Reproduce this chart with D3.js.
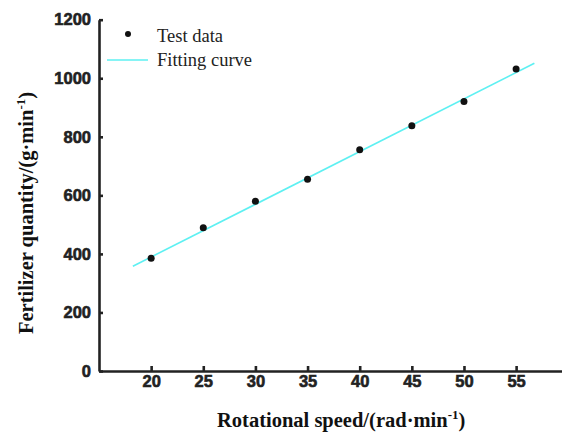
<!DOCTYPE html>
<html>
<head>
<meta charset="utf-8">
<script src="https://cdn.jsdelivr.net/npm/d3@7"></script>
<style>
  body { margin: 0; background: #fff; }
  .tick text { font-family: "Liberation Sans", Arial, sans-serif; font-weight: bold; font-size: 16.5px; fill: #222; stroke: #222; stroke-width: 0.6px; }
  .axis path, .axis line { stroke: #222; stroke-width: 2.6px; }
  .title { font-family: "Liberation Serif", "Times New Roman", serif; font-weight: bold; font-size: 20.5px; fill: #111; }
  .legend text { font-family: "Liberation Serif", "Times New Roman", serif; font-size: 18.5px; fill: #222; }
</style>
</head>
<body>
<div id="app"></div>
<script>
// data
const speed = [20, 25, 30, 35, 40, 45, 50, 55];
const quantity = [385, 489, 580, 655, 756, 838, 921, 1032];
// fitted line, endpoints
const fitSpeed = [18.25, 56.75];
const fitQuantity = [358, 1051];
const xTicks = [20, 25, 30, 35, 40, 45, 50, 55];
const yTicks = [0, 200, 400, 600, 800, 1000, 1200];

const w = 562, h = 432;

const svg = d3.select('#app')
  .append('svg')
  .attr('width', w)
  .attr('height', h);

const xScale = d3.scaleLinear().domain([15, 59.4]).range([99, 562]);
const yScale = d3.scaleLinear().domain([0, 1200]).range([371, 19.7]);

/////////AXES/////////

svg.append('g')
  .attr('class', 'axis')
  .attr('transform', 'translate(0,' + yScale(0) + ')')
  .call(d3.axisBottom(xScale).tickValues(xTicks).tickFormat(d3.format('d'))
    .tickSizeInner(-5).tickSizeOuter(0).tickPadding(4));

svg.append('g')
  .attr('class', 'axis')
  .attr('transform', 'translate(' + xScale(15) + ',0)')
  .call(d3.axisLeft(yScale).tickValues(yTicks).tickFormat(d3.format('d'))
    .tickSizeInner(-4).tickSizeOuter(0).tickPadding(8));

const xTitle = svg.append('text')
  .attr('class', 'title')
  .attr('x', 217)
  .attr('y', 427);
xTitle.append('tspan').text('Rotational speed/(rad\u00b7min');
xTitle.append('tspan').attr('dy', -8).style('font-size', '13px').text('-1');
xTitle.append('tspan').attr('dy', 8).text(')');

const yTitle = svg.append('text')
  .attr('class', 'title')
  .attr('transform', 'translate(33,213) rotate(-90)')
  .attr('text-anchor', 'middle');
yTitle.append('tspan').text('Fertilizer quantity/(g\u00b7min');
yTitle.append('tspan').attr('dy', -8).style('font-size', '13px').text('-1');
yTitle.append('tspan').attr('dy', 8).text(')');

/////////FIT LINE & POINTS/////////

const line = d3.line()
  .x((d, i) => xScale(fitSpeed[i]))
  .y((d) => yScale(d));

svg.append('path')
  .datum(fitQuantity)
  .attr('d', line)
  .attr('fill', 'none')
  .attr('stroke', '#5ef0f2')
  .attr('stroke-width', 1.6);

svg.selectAll('circle.dot')
  .data(speed)
  .enter()
  .append('circle')
  .attr('class', 'dot')
  .attr('r', 3.5)
  .attr('cx', (d) => xScale(d))
  .attr('cy', (d, i) => yScale(quantity[i]))
  .attr('fill', '#111');

/////////LEGEND/////////

const legend = svg.append('g').attr('class', 'legend');
legend.append('circle').attr('cx', 128).attr('cy', 34).attr('r', 3).attr('fill', '#111');
legend.append('text').attr('x', 157).attr('y', 42).text('Test data');
legend.append('line')
  .attr('x1', 107).attr('x2', 148).attr('y1', 60).attr('y2', 60)
  .attr('stroke', '#5ef0f2').attr('stroke-width', 1.6);
legend.append('text').attr('x', 157).attr('y', 66).text('Fitting curve');
</script>
</body>
</html>
